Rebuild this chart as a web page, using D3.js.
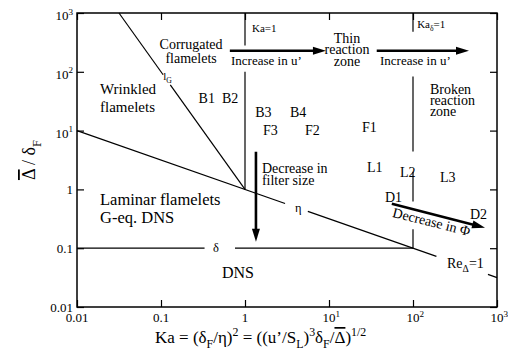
<!DOCTYPE html>
<html>
<head>
<meta charset="utf-8">
<script src="https://cdn.jsdelivr.net/npm/d3@7"></script>
<style>
  body { margin: 0; background: #fff; }
  svg, svg text, svg tspan { font-family: 'Liberation Serif', 'DejaVu Serif', serif; fill: #000; }
</style>
</head>
<body>
<svg id="chart"></svg>
<script>
const w = 508;
const h = 360;
const serif = "'Liberation Serif', 'DejaVu Serif', serif";

// ticks on both axes (log decades)
const tickValues = [0.01, 0.1, 1, 10, 100, 1000];
const tickLabels = ['0.01', '0.1', '1', '10^{1}', '10^{2}', '10^{3}'];

// regime boundaries as [Ka, Delta/deltaF] points, broken where a label sits
const etaLine = [[[0.01, 10], [3, 0.577]], [[5.6, 0.423], [190, 0.0725]], [[780, 0.0358], [1000, 0.0316]]];
const lGLine = [[[0.0316, 1000], [0.106, 89]], [[0.129, 60], [1, 1]]];
const deltaLine = [[[0.01, 0.1], [0.33, 0.1]], [[0.76, 0.1], [100, 0.1]]];
const kaLine = [[[1, 1000], [1, 280]], [[1, 100], [1, 1]]];
const kaDeltaLine = [[[100, 1000], [100, 480]], [[100, 83], [100, 4.4]], [[100, 2.0], [100, 0.62]], [[100, 0.21], [100, 0.1]]];

// arrows: from -> to
const arrows = [
  [[0.66, 228], [9.2, 228]],
  [[37, 228], [464, 228]],
  [[1.35, 4.37], [1.35, 0.129]],
  [[56, 0.571], [720, 0.223]]
];

// labels: text lines, anchor in data coords, kind
const labels = [
  { lines: ['Wrinkled', 'flamelets'], ka: 0.0188, d: 42.5, kind: 'big' },
  { lines: ['Corrugated', 'flamelets'], ka: 0.228, d: 247, kind: 'midc' },
  { lines: ['l_{G}'], ka: 0.106, d: 73.5, kind: 'small' },
  { lines: ['Ka=1'], ka: 1.21, d: 481, kind: 'small' },
  { lines: ['Increase in u’'], ka: 0.681, d: 132, kind: 'u' },
  { lines: ['Thin', 'reaction', 'zone'], ka: 16.4, d: 312, kind: 'stackc' },
  { lines: ['Increase in u’'], ka: 40.5, d: 132, kind: 'u' },
  { lines: ['Ka_{δ}=1'], ka: 112, d: 562, kind: 'small' },
  { lines: ['Broken', 'reaction', 'zone'], ka: 159, d: 42.5, kind: 'stack' },
  { lines: ['B1'], ka: 0.28, d: 29.8, kind: 'mid' },
  { lines: ['B2'], ka: 0.532, d: 29.8, kind: 'mid' },
  { lines: ['B3'], ka: 1.32, d: 17.2, kind: 'mid' },
  { lines: ['B4'], ka: 3.43, d: 17.2, kind: 'mid' },
  { lines: ['F3'], ka: 1.64, d: 8.5, kind: 'mid' },
  { lines: ['F2'], ka: 5.18, d: 8.5, kind: 'mid' },
  { lines: ['F1'], ka: 24.7, d: 9.57, kind: 'mid' },
  { lines: ['Decrease in', 'filter size'], ka: 1.59, d: 1.92, kind: 'filter' },
  { lines: ['Laminar flamelets', 'G-eq. DNS'], ka: 0.0188, d: 0.55, kind: 'lam' },
  { lines: ['η'], ka: 3.94, d: 0.418, kind: 'greek' },
  { lines: ['δ'], ka: 0.416, d: 0.087, kind: 'greek' },
  { lines: ['DNS'], ka: 0.532, d: 0.0315, kind: 'dns' },
  { lines: ['L1'], ka: 28.3, d: 2.0, kind: 'mid' },
  { lines: ['L2'], ka: 70, d: 1.64, kind: 'mid' },
  { lines: ['L3'], ka: 209, d: 1.35, kind: 'mid' },
  { lines: ['D1'], ka: 46.4, d: 0.618, kind: 'mid' },
  { lines: ['D2'], ka: 477, d: 0.318, kind: 'mid' },
  { lines: ['Decrease in Φ'], ka: 56, d: 0.343, kind: 'phi' },
  { lines: ['Re_{Δ}=1'], ka: 254, d: 0.0466, kind: 'mid' }
];

const styles = {
  big:    { size: 15, lh: 18, anchor: 'start' },
  midc:   { size: 14, lh: 14, anchor: 'middle' },
  small:  { size: 11, lh: 11, anchor: 'start' },
  u:      { size: 13, lh: 13, anchor: 'start' },
  stackc: { size: 14, lh: 11.5, anchor: 'middle' },
  stack:  { size: 14, lh: 11, anchor: 'start' },
  mid:    { size: 14, lh: 14, anchor: 'start' },
  filter: { size: 14, lh: 12, anchor: 'start' },
  lam:    { size: 16.5, lh: 18, anchor: 'start' },
  greek:  { size: 12.5, lh: 12, anchor: 'start' },
  dns:    { size: 16, lh: 16, anchor: 'start' },
  phi:    { size: 14, lh: 14, anchor: 'start', rotate: 14 }
};

const svg = d3.select('#chart')
  .attr('width', w)
  .attr('height', h)
  .attr('font-family', serif);

const x = d3.scaleLog().domain([0.01, 1000]).range([77, 497]);
const y = d3.scaleLog().domain([0.01, 1000]).range([307, 13]);

// text with _{sub}, ^{sup} and ~{overline}
function rich(text, str, size) {
  text.attr('font-family', serif);
  const parts = str.split(/(_\{[^}]*\}|\^\{[^}]*\}|~\{[^}]*\})/).filter(s => s.length);
  let off = 0;
  parts.forEach(p => {
    let kind = 'n', s = p;
    if (p.startsWith('_{')) { kind = 'sub'; s = p.slice(2, -1); }
    else if (p.startsWith('^{')) { kind = 'sup'; s = p.slice(2, -1); }
    else if (p.startsWith('~{')) { kind = 'over'; s = p.slice(2, -1); }
    const target = kind === 'sub' ? size * 0.32 : kind === 'sup' ? -size * 0.42 : 0;
    const t = text.append('tspan').text(s).attr('dy', target - off);
    off = target;
    if (kind === 'sub' || kind === 'sup') t.style('font-size', (size * 0.7) + 'px');
    if (kind === 'over') t.style('text-decoration', 'overline');
  });
  return text;
}

// ticks, inward on all four sides
const tickLen = 7;
svg.append('g').attr('transform', 'translate(0,307)')
  .call(d3.axisBottom(x).tickValues(tickValues).tickSize(-tickLen).tickFormat(''));
svg.append('g').attr('transform', 'translate(0,13)')
  .call(d3.axisTop(x).tickValues(tickValues).tickSize(-tickLen).tickFormat(''));
svg.append('g').attr('transform', 'translate(77,0)')
  .call(d3.axisLeft(y).tickValues(tickValues).tickSize(-tickLen).tickFormat(''));
svg.append('g').attr('transform', 'translate(497,0)')
  .call(d3.axisRight(y).tickValues(tickValues).tickSize(-tickLen).tickFormat(''));
svg.selectAll('.domain').remove();
svg.selectAll('.tick line').attr('stroke', '#000').attr('stroke-width', 1.2);

svg.append('rect')
  .attr('x', 77).attr('y', 13)
  .attr('width', 420).attr('height', 294)
  .attr('fill', 'none')
  .attr('stroke', '#000')
  .attr('stroke-width', 1.5);

// tick labels
tickValues.forEach((v, i) => {
  const lab = tickLabels[i];
  const pow = lab.includes('^');
  const ty = svg.append('text')
    .attr('x', 73)
    .attr('y', y(v) + (pow ? 7 : 4.5))
    .attr('text-anchor', 'end')
    .style('font-size', '13px');
  rich(ty, lab, 13);

  const tx = svg.append('text')
    .attr('y', 322)
    .style('font-size', '13px');
  rich(tx, lab, 13);
  const baseLen = tx.select('tspan').node().getComputedTextLength();
  tx.attr('x', x(v) - baseLen / 2);
});

// boundary lines
const line = d3.line().x(d => x(d[0])).y(d => y(d[1]));
const segs = [].concat(etaLine, lGLine, deltaLine, kaLine, kaDeltaLine);
svg.append('g')
  .selectAll('path')
  .data(segs)
  .enter()
  .append('path')
  .attr('d', line)
  .attr('fill', 'none')
  .attr('stroke', '#000')
  .attr('stroke-width', 1.2);

// arrows
const headLen = 13, headW = 4;
arrows.forEach(a => {
  const x0 = x(a[0][0]), y0 = y(a[0][1]);
  const x1 = x(a[1][0]), y1 = y(a[1][1]);
  const len = Math.hypot(x1 - x0, y1 - y0);
  const ux = (x1 - x0) / len, uy = (y1 - y0) / len;
  svg.append('line')
    .attr('x1', x0).attr('y1', y0)
    .attr('x2', x1 - ux * (headLen - 2)).attr('y2', y1 - uy * (headLen - 2))
    .attr('stroke', '#000')
    .attr('stroke-width', 2.6);
  const bx = x1 - ux * headLen, by = y1 - uy * headLen;
  svg.append('path')
    .attr('d', `M${x1},${y1}L${bx - uy * headW},${by + ux * headW}L${bx + uy * headW},${by - ux * headW}Z`)
    .attr('fill', '#000');
});

// region labels
labels.forEach(l => {
  const st = styles[l.kind];
  const px = x(l.ka), py = y(l.d);
  const g = svg.append('g');
  if (st.rotate) g.attr('transform', `rotate(${st.rotate},${px},${py})`);
  l.lines.forEach((s, i) => {
    const t = g.append('text')
      .attr('x', px)
      .attr('y', py + i * st.lh)
      .attr('text-anchor', st.anchor)
      .style('font-size', st.size + 'px');
    rich(t, s, st.size);
  });
});

// axis titles
rich(svg.append('text')
  .attr('x', 155)
  .attr('y', 343)
  .style('font-size', '17px'),
  'Ka = (δ_{F}/η)^{2} = ((u’/S_{L})^{3}δ_{F}/~{Δ})^{1/2}', 17);

rich(svg.append('text')
  .attr('transform', 'translate(35,160) rotate(-90)')
  .attr('text-anchor', 'middle')
  .style('font-size', '18px'),
  '~{Δ} / δ_{F}', 18);
</script>
</body>
</html>
